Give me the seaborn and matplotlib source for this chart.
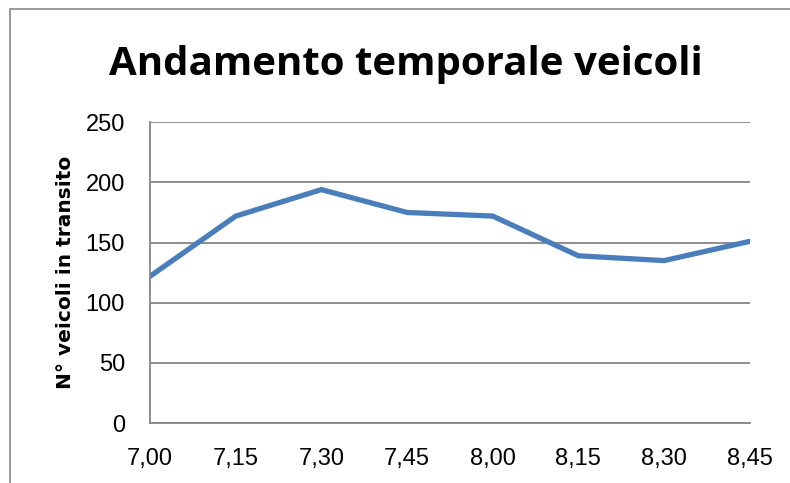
import pandas as pd
import matplotlib.pyplot as plt
import matplotlib.font_manager as fm
import seaborn as sns

orari = ['7,00', '7,15', '7,30', '7,45', '8,00', '8,15', '8,30', '8,45']
veicoli = [122, 172, 194, 175, 172, 139, 135, 151]

df = pd.DataFrame({'orario': orari, 'veicoli': veicoli})

sns.set_style('white')
names = {f.name for f in fm.fontManager.ttflist}
narrow = 'Liberation Sans Narrow' if 'Liberation Sans Narrow' in names else 'Liberation Sans'
plt.rcParams['font.family'] = [narrow, 'DejaVu Sans']

fig = plt.figure(figsize=(7.9, 4.83), dpi=100)
ax = fig.add_axes([0.19, 0.124, 0.759, 0.623])

sns.lineplot(data=df, x='orario', y='veicoli', ax=ax, color='#4a7ebb',
             linewidth=3.8, sort=False)

ax.set_ylim(0, 250)
ax.set_xlim(0, len(orari) - 1)
ax.set_yticks(range(0, 251, 50))
ax.yaxis.grid(True, color='#868686', linewidth=1.3)
ax.xaxis.grid(False)
for s in ['top', 'right']:
    ax.spines[s].set_visible(False)
for s in ['left', 'bottom']:
    ax.spines[s].set_color('#868686')
    ax.spines[s].set_linewidth(1.3)
ax.tick_params(axis='both', which='both', direction='out', length=6, width=1.3,
               color='#868686', labelsize=17, labelcolor='black')
ax.tick_params(axis='y', pad=12)
ax.tick_params(axis='x', pad=12)
ax.set_xlabel('')
ax.set_ylabel('N° veicoli in transito', fontsize=14.5, fontweight='bold',
              family='DejaVu Sans', color='black', labelpad=8)

fig.text(0.514, 0.866, 'Andamento temporale veicoli', ha='center', va='center',
         fontsize=29, fontweight='bold', family='Open Sans', color='black')

# outer chart frame like the spreadsheet chart area
fig.patches.append(plt.Rectangle((0.0127, -0.05), 1.2, 1.031, transform=fig.transFigure,
                                 fill=False, edgecolor='#868686', linewidth=1.2))

fig.savefig('out.png', dpi=100)
plt.close(fig)
